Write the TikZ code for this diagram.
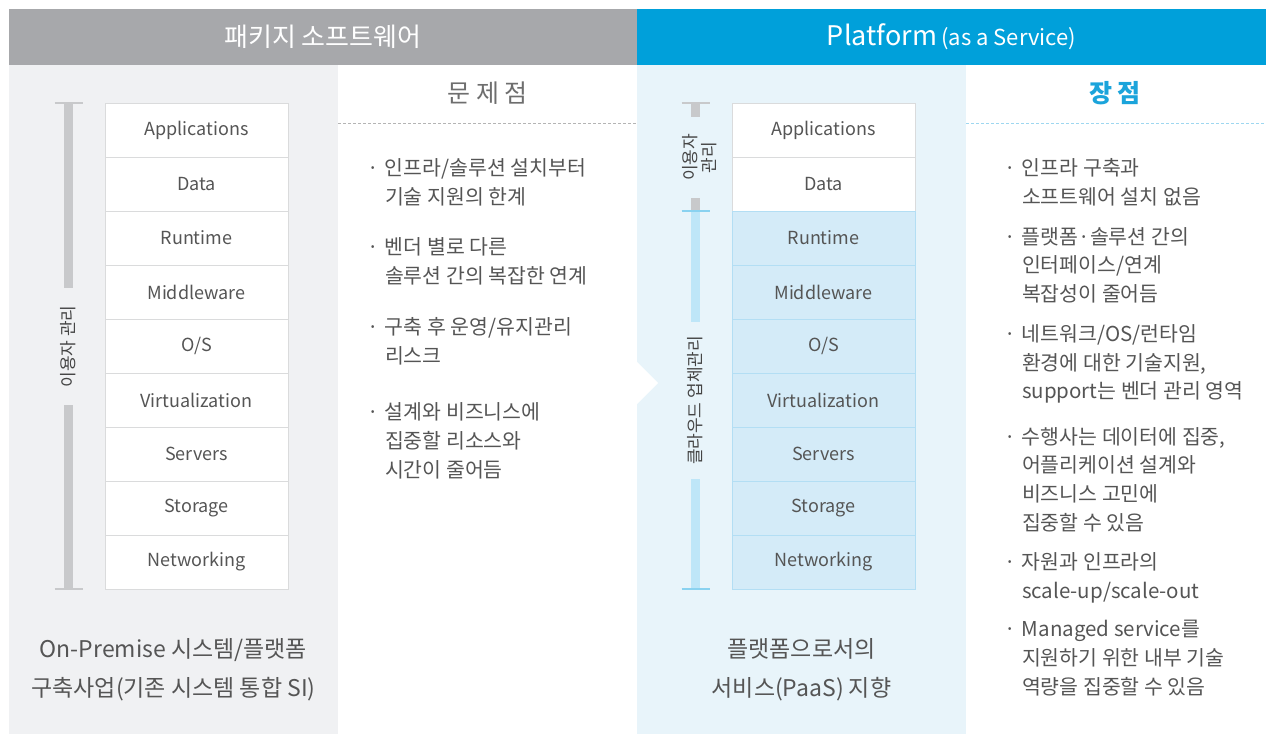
\documentclass[tikz,border=0pt]{standalone}
\usepackage{fontspec}
\setmainfont{Noto Sans CJK KR}
\usetikzlibrary{positioning}

\definecolor{headgray}{HTML}{A7A8AB}
\definecolor{headblue}{HTML}{00A0DA}
\definecolor{panelgray}{HTML}{F0F1F3}
\definecolor{panelblue}{HTML}{E8F4FA}
\definecolor{txtgray}{HTML}{555555}
\definecolor{ownergray}{HTML}{444444}
\definecolor{titlegray}{HTML}{6E6E6E}
\definecolor{titleblue}{HTML}{1BA4DB}
\definecolor{layerline}{HTML}{DADBDC}
\definecolor{cloudfill}{HTML}{D4EBF8}
\definecolor{cloudline}{HTML}{B3DEF4}
\definecolor{bargray}{HTML}{C8C9CB}
\definecolor{barblue}{HTML}{BEE6F8}
\definecolor{tickblue}{HTML}{8AD2F0}
\definecolor{dashgray}{HTML}{B4B4B4}
\definecolor{dashblue}{HTML}{9ED7F0}

\newcommand{\itemdot}{\llap{·\hspace{6pt}}}

\begin{document}
\begin{tikzpicture}[x=1pt,y=-1pt,node distance=0pt,
	every node/.style={outer sep=0pt,text=txtgray},
	header/.style={minimum height=56pt,inner sep=0pt,text=white,font=\fontsize{26}{30}\selectfont},
	panel/.style={minimum width=329pt,minimum height=669pt,inner sep=0pt},
	stacklayer/.style={draw=layerline,fill=white,line width=1pt,minimum width=183pt,minimum height=54pt,inner sep=0pt,font=\fontsize{18}{20}\selectfont},
	cloudlayer/.style={stacklayer,draw=cloudline,fill=cloudfill},
	owner/.style={rotate=90,inner sep=0pt,align=center,text=ownergray,font=\fontsize{17}{19}\selectfont},
	graybar/.style={draw=bargray,line width=9pt},
	bluebar/.style={draw=barblue,line width=9pt},
	endtick/.style={line width=1.2pt},
	coltitle/.style={text=titlegray,font=\fontsize{25}{27}\selectfont},
	pointlist/.style={anchor=north west,inner sep=0pt,align=left,font=\fontsize{20.5}{29}\selectfont},
	meritlist/.style={pointlist,font=\fontsize{20.5}{28.6}\selectfont},
	summary/.style={align=center,font=\fontsize{23}{39}\selectfont},
	dashrule/.style={line width=0.8pt,dash pattern=on 3pt off 2pt}
	]
	\useasboundingbox (0,0) rectangle (1266,734);
	
	\node[header,fill=headgray,minimum width=628pt] (pkg) at (323,37) {패키지 소프트웨어};
	\node[header,fill=headblue,minimum width=629pt,right=of pkg] (paas) {{\fontsize{27}{30}\selectfont Platform}\,{\fontsize{22}{26}\selectfont(as a Service)}};
	\node[panel,fill=panelgray,below right=of pkg.south west] (lpanel) {};
	\node[panel,fill=panelblue,below right=of paas.south west] (rpanel) {};
	\fill[white] (637,362) -- (658,383) -- (637,404) -- cycle;
	
	\node[coltitle] (issues) at (487.5,93) {문 제 점};
	\node[coltitle,text=titleblue,font=\fontsize{25}{27}\selectfont\bfseries] (merits) at (1115,93) {장 점};
	\draw[dashrule,dashgray] (338,123) -- (637,123);
	\draw[dashrule,dashblue] (966,123) -- (1266,123);
	
	\node[stacklayer] (lapp) at (196.5,130) {Applications};
	\node[stacklayer,below=of lapp] (ldata) {Data};
	\node[stacklayer,below=of ldata] (lrun) {Runtime};
	\node[stacklayer,below=of lrun] (lmid) {Middleware};
	\node[stacklayer,below=of lmid] (los) {O/S};
	\node[stacklayer,below=of los] (lvirt) {Virtualization};
	\node[stacklayer,below=of lvirt] (lserv) {Servers};
	\node[stacklayer,below=of lserv] (lstor) {Storage};
	\node[stacklayer,below=of lstor] (lnet) {Networking};
	
	\node[stacklayer] (rapp) at (823.5,130) {Applications};
	\node[stacklayer,below=of rapp] (rdata) {Data};
	\node[cloudlayer,below=of rdata] (rrun) {Runtime};
	\node[cloudlayer,below=of rrun] (rmid) {Middleware};
	\node[cloudlayer,below=of rmid] (ros) {O/S};
	\node[cloudlayer,below=of ros] (rvirt) {Virtualization};
	\node[cloudlayer,below=of rvirt] (rserv) {Servers};
	\node[cloudlayer,below=of rserv] (rstor) {Storage};
	\node[cloudlayer,below=of rstor] (rnet) {Networking};
	
	\coordinate (ltop) at (68.5,103);
	\coordinate (lbot) at (68.5,589);
	\node[owner,minimum width=117pt] (luser) at (68.5,346.5) {이용자 관리};
	\draw[graybar] (ltop) -- (luser.east);
	\draw[graybar] (luser.west) -- (lbot);
	\draw[endtick,bargray] (ltop) ++(-14,0) -- ++(28,0);
	\draw[endtick,bargray] (lbot) ++(-14,0) -- ++(28,0);
	
	\coordinate (rtop) at (695.5,103);
	\coordinate (rsplit) at (695.5,211);
	\coordinate (rbot) at (695.5,589);
	\node[owner,minimum width=81pt] (ruser) at (700,157.5) {이용자\\관리};
	\node[owner,minimum width=157pt] (rcloud) at (695.5,400.5) {클라우드 업체관리};
	\draw[graybar] (rtop) -- (ruser.east -| rtop);
	\draw[graybar] (ruser.west -| rtop) -- (rsplit);
	\draw[bluebar] (rsplit) -- (rcloud.east);
	\draw[bluebar] (rcloud.west) -- (rbot);
	\draw[endtick,bargray] (rtop) ++(-14,0) -- ++(28,0);
	\draw[endtick,tickblue] (rsplit) ++(-14,0) -- ++(28,0);
	\draw[endtick,tickblue] (rbot) ++(-14,0) -- ++(28,0);
	
	\node[pointlist] (p1) at (385,158.5) {\itemdot 인프라/솔루션 설치부터\\기술 지원의 한계};
	\node[pointlist,below right=31pt and 0pt of p1.south west] (p2) {\itemdot 벤더 별로 다른\\솔루션 간의 복잡한 연계};
	\node[pointlist,below right=33pt and 0pt of p2.south west] (p3) {\itemdot 구축 후 운영/유지관리\\리스크};
	\node[pointlist,below right=37pt and 0pt of p3.south west] (p4) {\itemdot 설계와 비즈니스에\\집중할 리소스와\\시간이 줄어듬};
	
	\node[meritlist] (m1) at (1022,158.5) {\itemdot 인프라 구축과\\소프트웨어 설치 없음};
	\node[meritlist,below right=21.4pt and 0pt of m1.south west] (m2) {\itemdot 플랫폼·솔루션 간의\\인터페이스/연계\\복잡성이 줄어듬};
	\node[meritlist,below right=21.8pt and 0pt of m2.south west] (m3) {\itemdot 네트워크/OS/런타임\\환경에 대한 기술지원,\\support는 벤더 관리 영역};
	\node[meritlist,below right=23.8pt and 0pt of m3.south west] (m4) {\itemdot 수행사는 데이터에 집중,\\어플리케이션 설계와\\비즈니스 고민에\\집중할 수 있음};
	\node[meritlist,below right=21.2pt and 0pt of m4.south west] (m5) {\itemdot 자원과 인프라의\\scale-up/scale-out};
	\node[meritlist,below right=17.4pt and 0pt of m5.south west] (m6) {\itemdot Managed service를\\지원하기 위한 내부 기술\\역량을 집중할 수 있음};
	
	\node[summary] (lsum) at (173.5,670) {On-Premise 시스템/플랫폼\\구축사업(기존 시스템 통합 SI)};
	\node[summary] (rsum) at (801.5,670) {플랫폼으로서의\\서비스(PaaS) 지향};
\end{tikzpicture}
\end{document}
